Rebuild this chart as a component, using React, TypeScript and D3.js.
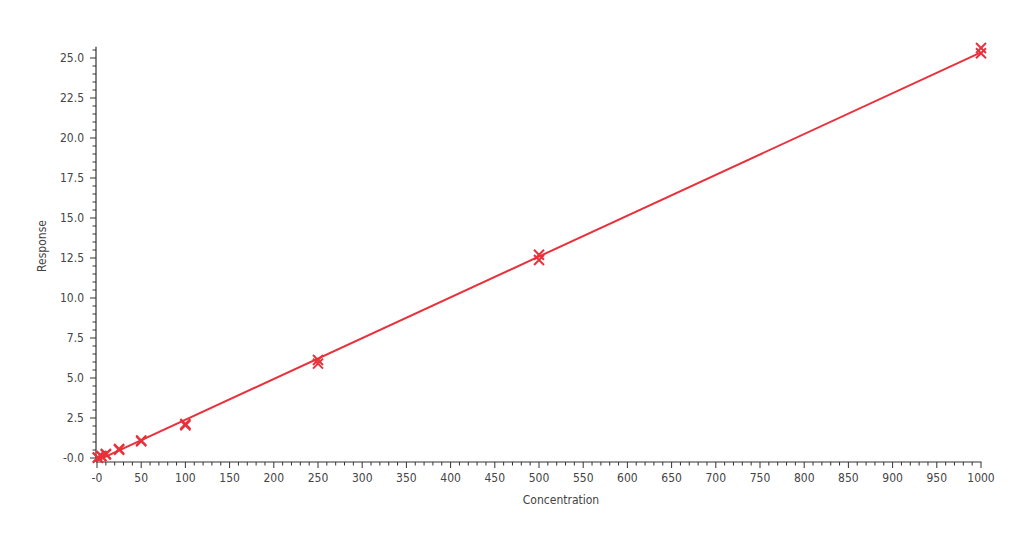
import React from "react";
import * as d3 from "d3";

const concentrations = [1, 5, 10, 25, 50, 100, 250, 500, 1000];
const replicateA = [0.03, 0.13, 0.26, 0.56, 1.1, 2.12, 6.12, 12.7, 25.62];
const replicateB = [0.02, 0.11, 0.22, 0.52, 1.04, 2.04, 5.9, 12.38, 25.3];
const xTickValues = d3.range(0, 1001, 50);
const yTickValues = d3.range(0, 25.01, 2.5);

const W = 1024;
const H = 536;
const X0 = 97;
const X1 = 981;
const Y0 = 458;
const Y25 = 58;

const font = "'DejaVu Sans Condensed', 'DejaVu Sans', sans-serif";
const red = "#e8313a";

export default function App() {
  const x = d3.scaleLinear().domain([0, 1000]).range([X0, X1]);
  const y = d3.scaleLinear().domain([0, 25]).range([Y0, Y25]);

  const pts: [number, number][] = [];
  concentrations.forEach((c, i) => {
    pts.push([c, replicateA[i]]);
    pts.push([c, replicateB[i]]);
  });
  const mx = d3.mean(pts, (p) => p[0])!;
  const my = d3.mean(pts, (p) => p[1])!;
  const sxy = d3.sum(pts, (p) => (p[0] - mx) * (p[1] - my));
  const sxx = d3.sum(pts, (p) => (p[0] - mx) ** 2);
  const slope = sxy / sxx;
  const icpt = my - slope * mx;
  const line = d3
    .line<number>()
    .x((c) => x(c))
    .y((c) => y(icpt + slope * c));

  const axisY = 462;
  const axisX = 96;
  const minorX = d3.range(0, 1001, 10).filter((v) => v % 50 !== 0);
  const minorY = d3.range(0, 25.71, 0.5).filter((v) => Math.abs(v / 2.5 - Math.round(v / 2.5)) > 1e-6);
  const s = 5;

  return (
    <svg
      width={W}
      height={H}
      style={{ position: "absolute", left: 0, top: 0, background: "#fff" }}
      fontFamily={font}
    >
      {/* axes lines */}
      <line x1={axisX} x2={X1 + 0.5} y1={axisY} y2={axisY} stroke="#333" strokeWidth={1.2} />
      <line x1={axisX} x2={axisX} y1={y(25.7)} y2={axisY} stroke="#333" strokeWidth={1.2} />
      {/* x ticks */}
      {xTickValues.map((v) => (
        <g key={"xt" + v}>
          <line x1={x(v)} x2={x(v)} y1={axisY} y2={axisY + 6} stroke="#333" strokeWidth={1} />
          <text x={x(v)} y={axisY + 20} textAnchor="middle" fontSize={12} fill="#444">
            {v === 0 ? "-0" : v}
          </text>
        </g>
      ))}
      {minorX.map((v) => (
        <line key={"xm" + v} x1={x(v)} x2={x(v)} y1={axisY} y2={axisY + 3.5} stroke="#333" strokeWidth={1} />
      ))}
      {/* y ticks */}
      {yTickValues.map((v) => (
        <g key={"yt" + v}>
          <line x1={axisX - 6} x2={axisX} y1={y(v)} y2={y(v)} stroke="#333" strokeWidth={1} />
          <text x={axisX - 12} y={y(v) + 4} textAnchor="end" fontSize={12} fill="#444">
            {v === 0 ? "-0.0" : v.toFixed(1)}
          </text>
        </g>
      ))}
      {minorY.map((v) => (
        <line key={"ym" + v} x1={axisX - 3.5} x2={axisX} y1={y(v)} y2={y(v)} stroke="#333" strokeWidth={1} />
      ))}
      {/* axis titles */}
      <text x={561} y={504} textAnchor="middle" fontSize={12} fill="#444">
        Concentration
      </text>
      <text
        transform={`translate(46,246) rotate(-90)`}
        textAnchor="middle"
        fontSize={12}
        fill="#444"
      >
        Response
      </text>
      {/* regression line */}
      <path d={line([0, 1000]) ?? ""} fill="none" stroke={red} strokeWidth={2} />
      {/* markers */}
      {pts.map(([c, r], i) => (
        <g key={"p" + i} stroke={red} strokeWidth={2}>
          <line x1={x(c) - s} x2={x(c) + s} y1={y(r) - s} y2={y(r) + s} />
          <line x1={x(c) - s} x2={x(c) + s} y1={y(r) + s} y2={y(r) - s} />
        </g>
      ))}
    </svg>
  );
}
